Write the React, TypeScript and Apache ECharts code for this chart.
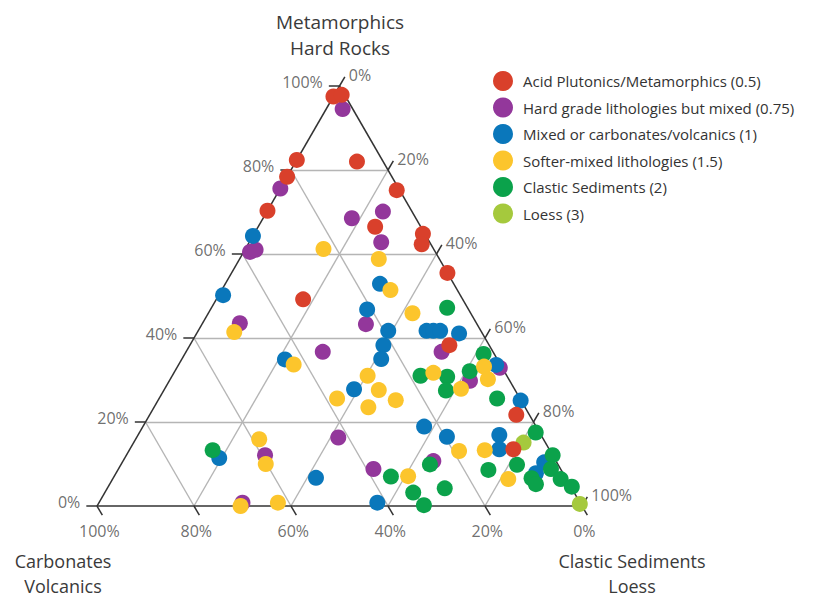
import React, { useEffect, useRef } from "react";
import * as echarts from "echarts";

// Ternary diagram: each point is [metamorphics %, clastic sediments %];
// carbonates % is the remainder.
const tickSteps = [0, 20, 40, 60, 80, 100];
const metamorphicTickLabels = ["0%", "20%", "40%", "60%", "80%", "100%"];
const clasticTickLabels = ["0%", "20%", "40%", "60%", "80%", "100%"];
const carbonateTickLabels = ["0%", "20%", "40%", "60%", "80%", "100%"];

const legendNames = [
  "Acid Plutonics/Metamorphics (0.5)",
  "Hard grade lithologies but mixed (0.75)",
  "Mixed or carbonates/volcanics (1)",
  "Softer-mixed lithologies (1.5)",
  "Clastic Sediments (2)",
  "Loess (3)",
];
const legendColors = ["#d9402b", "#93379b", "#0a77bb", "#fcc52c", "#0ba24b", "#a5c93d"];

const acidPlutonics: [number, number][] = [
  [97.5, 0], [97.9, 1.5], [82.4, 0], [82, 12.6], [78.4, 0], [70.3, 0],
  [75.2, 24.2], [66.5, 24.1], [64.8, 34.8], [62.3, 35.8], [55.5, 44.5],
  [49.2, 17.9], [38.3, 53.5], [21.7, 75.6], [13.5, 79.1],
];
const hardGrade: [number, number][] = [
  [94.5, 3.4], [75.6, 0], [68.5, 18.3], [70.1, 23.9], [62.8, 27.2],
  [60.5, 1.3], [61, 2.2], [43.5, 7.7], [43.3, 33.8], [36.7, 28.2],
  [36.7, 52.7], [32.9, 66.6], [29.8, 62], [16.3, 41.6], [12.1, 28.6],
  [8.8, 52.6], [10.7, 64], [0.8, 29.6],
];
const mixedCarbonates: [number, number][] = [
  [64.3, 0], [50.2, 0.9], [52.9, 31.9], [46.8, 32.3], [41.7, 39.2],
  [41.7, 47.1], [41.7, 48.5], [41.7, 49.9], [41.1, 54.1], [38.3, 39.9],
  [35, 41.1], [34.9, 21.3], [27.8, 39.1], [18.9, 58], [16.5, 63.9],
  [33.6, 65.5], [25.1, 74.8], [16.9, 74.5], [13.5, 76.2], [10.4, 87],
  [7.8, 86.6], [11.4, 19.5], [6.7, 41.8], [0.8, 57.4],
];
const softerMixed: [number, number][] = [
  [61.2, 16.1], [58.8, 28.7], [51.4, 34.8], [45.9, 42.1], [41.4, 7.6],
  [33.7, 23.7], [31, 40.3], [27.6, 44.3], [25.6, 36.7], [25.2, 49],
  [23.5, 44.2], [31.7, 53.5], [27.9, 61.1], [33.2, 63.2], [30.2, 65.5],
  [13.1, 68.1], [13.3, 73.3], [6.4, 81.6], [15.9, 25.5], [10, 29.8],
  [0, 29.6], [0.8, 36.9], [7.1, 60.6],
];
const clasticSediments: [number, number][] = [
  [47.2, 48.6], [36.2, 61.6], [32.1, 60.8], [31, 51.2], [30.8, 56.8],
  [27.5, 58.2], [25.6, 69.7], [17.5, 81.7], [8.6, 76.4], [9.8, 81.7],
  [12.1, 87.9], [8.8, 89.2], [6.6, 86.3], [5.2, 87.9], [6.4, 92.4],
  [4.6, 95.6], [13.3, 17.2], [7, 57.1], [3.2, 63.6], [0.2, 67.3],
  [4.2, 69.6], [9.9, 63.7],
];
const loess: [number, number][] = [
  [15.1, 80.4], [0.5, 99.3],
];

const H = Math.sqrt(3) / 2;
// ternary (metamorphics a, clastic c) -> cartesian (base 0..100, height 0..86.6)
const toXY = (a: number, c: number): [number, number] => [c + a / 2, a * H];

const TICK = 2.2;
const FONT = "'Open Sans', sans-serif";

export default function App() {
  const ref = useRef<HTMLDivElement>(null);

  useEffect(() => {
    if (!ref.current) return;
    const chart = echarts.init(ref.current, null, { renderer: "svg" });

    const gridLines: { coords: [number, number][] }[] = [];
    tickSteps.slice(1, -1).forEach((k) => {
      gridLines.push({ coords: [toXY(k, 0), toXY(k, 100 - k)] });
      gridLines.push({ coords: [toXY(0, k), toXY(100 - k, k)] });
      gridLines.push({ coords: [toXY(0, 100 - k), toXY(100 - k, 0)] });
    });

    const outline = [
      { coords: [toXY(0, 0), toXY(0, 100)] },
      { coords: [toXY(0, 100), toXY(100, 0)] },
      { coords: [toXY(100, 0), toXY(0, 0)] },
    ];

    const ticks: { coords: [number, number][] }[] = [];
    const labelItems: any[] = [];
    tickSteps.forEach((k, i) => {
      // left edge: metamorphics
      const l0 = toXY(k, 0);
      const l1 = toXY(k, -TICK);
      ticks.push({ coords: [l0, l1] });
      labelItems.push({
        name: metamorphicTickLabels[i],
        value: l1,
        label: { position: "left", distance: 6, offset: [0, -4] },
      });
      // right edge: clastic sediments
      const r0 = toXY(100 - k, k);
      const r1 = toXY(100 - k + TICK, k);
      ticks.push({ coords: [r0, r1] });
      labelItems.push({
        name: clasticTickLabels[i],
        value: r1,
        label: { position: "right", distance: 4, offset: [0, -2] },
      });
      // bottom edge: carbonates
      const b0 = toXY(0, 100 - k);
      const b1 = toXY(-TICK, 100 - k + TICK);
      ticks.push({ coords: [b0, b1] });
      labelItems.push({
        name: carbonateTickLabels[i],
        value: b1,
        label: { position: "bottom", distance: 8, offset: [-3, 0] },
      });
    });

    const pointSeries = (name: string, color: string, pts: [number, number][]) => ({
      type: "scatter",
      name,
      data: pts.map(([a, c]) => toXY(a, c)),
      symbol: "circle",
      symbolSize: 16,
      itemStyle: { color, opacity: 1 },
      clip: false,
      silent: true,
    });

    const cornerTitle = (x: number, y: number, text: string) => ({
      type: "text",
      x,
      y,
      style: {
        text,
        textAlign: "center",
        textVerticalAlign: "top",
        font: `18px ${FONT}`,
        lineHeight: 25,
        fill: "#3a3a3a",
      },
    });

    chart.setOption({
      animation: false,
      grid: { left: 97, top: 86, width: 485, height: 420 },
      xAxis: { type: "value", min: 0, max: 100, show: false },
      yAxis: { type: "value", min: 0, max: 50 * Math.sqrt(3), show: false },
      legend: {
        data: legendNames,
        orient: "vertical",
        left: 488,
        top: 66,
        icon: "circle",
        itemWidth: 30,
        itemHeight: 20,
        itemGap: 6.5,
        textStyle: { fontFamily: FONT, fontSize: 15, color: "#333" },
        selectedMode: false,
      },
      graphic: [
        {
          type: "text",
          x: 340,
          y: 9,
          style: {
            text: "Metamorphics\nHard Rocks",
            textAlign: "center",
            textVerticalAlign: "top",
            font: `19px ${FONT}`,
            lineHeight: 26,
            fill: "#3a3a3a",
          },
        },
        cornerTitle(63, 548, "Carbonates\nVolcanics"),
        cornerTitle(632, 548, "Clastic Sediments\nLoess"),
      ],
      series: [
        {
          type: "lines",
          coordinateSystem: "cartesian2d",
          data: gridLines,
          lineStyle: { color: "#b5b5b5", width: 1.4, opacity: 1 },
          silent: true,
          clip: false,
        },
        {
          type: "lines",
          coordinateSystem: "cartesian2d",
          data: ticks,
          lineStyle: { color: "#333", width: 1.5, opacity: 1 },
          silent: true,
          clip: false,
        },
        {
          type: "lines",
          coordinateSystem: "cartesian2d",
          data: outline,
          lineStyle: { color: "#333", width: 1.5, opacity: 1 },
          silent: true,
          clip: false,
        },
        {
          type: "scatter",
          data: labelItems,
          symbolSize: 0,
          silent: true,
          clip: false,
          label: {
            show: true,
            formatter: "{b}",
            fontFamily: FONT,
            fontSize: 16,
            color: "#4a4a4a",
          },
        },
        pointSeries(legendNames[1], legendColors[1], hardGrade),
        pointSeries(legendNames[2], legendColors[2], mixedCarbonates),
        pointSeries(legendNames[5], legendColors[5], loess),
        pointSeries(legendNames[4], legendColors[4], clasticSediments),
        pointSeries(legendNames[3], legendColors[3], softerMixed),
        pointSeries(legendNames[0], legendColors[0], acidPlutonics),
      ],
    });

    return () => chart.dispose();
  }, []);

  return (
    <div
      ref={ref}
      style={{ position: "fixed", left: 0, top: 0, width: 823, height: 598, background: "#fff" }}
    />
  );
}
